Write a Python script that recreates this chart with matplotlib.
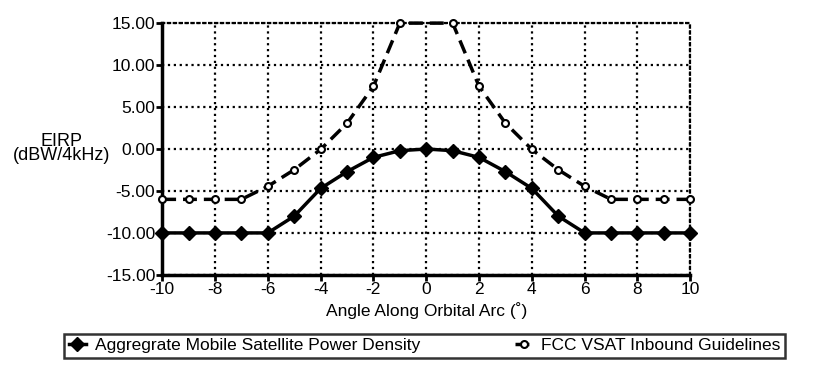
import matplotlib.pyplot as plt
import matplotlib.ticker as mticker

plt.rcParams['font.family'] = ['Liberation Sans', 'DejaVu Sans']
plt.rcParams['axes.unicode_minus'] = False

# -----------------------------
# Data
# -----------------------------
mobile_angle = [-10, -9, -8, -7, -6, -5, -4, -3, -2, -1, 0, 1, 2, 3, 4, 5, 6, 7, 8, 9, 10]
mobile_eirp = [-10, -10, -10, -10, -10, -8.0, -4.7, -2.7, -1.0, -0.2, 0,
               -0.2, -1.0, -2.7, -4.7, -8.0, -10, -10, -10, -10, -10]

fcc_angle = [-10, -9, -8, -7, -6, -5, -4, -3, -2, -1, 1, 2, 3, 4, 5, 6, 7, 8, 9, 10]
fcc_eirp = [-6, -6, -6, -6, -4.45, -2.47, -0.05, 3.07, 7.47, 15,
            15, 7.47, 3.07, -0.05, -2.47, -4.45, -6, -6, -6, -6]

x_ticks = [-10, -8, -6, -4, -2, 0, 2, 4, 6, 8, 10]
y_ticks = [-15, -10, -5, 0, 5, 10, 15]

# -----------------------------
# Plot
# -----------------------------
fig = plt.figure(figsize=(8.15, 3.67), dpi=100)
ax = fig.add_axes([0.199, 0.251, 0.648, 0.686])

ax.plot(mobile_angle, mobile_eirp, color="black", lw=2.5, marker="D", ms=7,
        mfc="black", mec="black", label="Aggregrate Mobile Satellite Power Density",
        zorder=4, clip_on=False)
ax.plot(fcc_angle, fcc_eirp, color="black", lw=2.5, ls=(0, (4, 2)), marker="o", ms=5,
        mfc="white", mec="black", mew=1.5, label="FCC VSAT Inbound Guidelines",
        zorder=4, clip_on=False)

ax.set_xlim(-10, 10)
ax.set_ylim(-15, 15)
ax.set_xticks(x_ticks)
ax.set_yticks(y_ticks)
ax.yaxis.set_major_formatter(mticker.FormatStrFormatter("%.2f"))
ax.tick_params(labelsize=12.5, length=4, width=2, direction="out", pad=1)

ax.grid(True, color="black", ls=":", lw=1.6)
ax.set_axisbelow(True)
for side in ["top", "right"]:
    ax.spines[side].set_linestyle(":")
    ax.spines[side].set_linewidth(1.6)
for side in ["left", "bottom"]:
    ax.spines[side].set_linewidth(2.5)

ax.set_xlabel("Angle Along Orbital Arc (˚)", fontsize=12.5, labelpad=4)
fig.text(0.076, 0.595, "EIRP\n(dBW/4kHz)", fontsize=13, ha="center", va="center",
         linespacing=0.8)

leg = fig.legend(loc="lower center", bbox_to_anchor=(0.521, 0.002), ncol=2, fontsize=12.5,
                 frameon=True, fancybox=False, edgecolor="black", handlelength=1.0,
                 columnspacing=5.5, borderpad=0.25, handletextpad=0.5)
leg.get_frame().set_linewidth(1.8)

plt.savefig("out.png", dpi=100)
